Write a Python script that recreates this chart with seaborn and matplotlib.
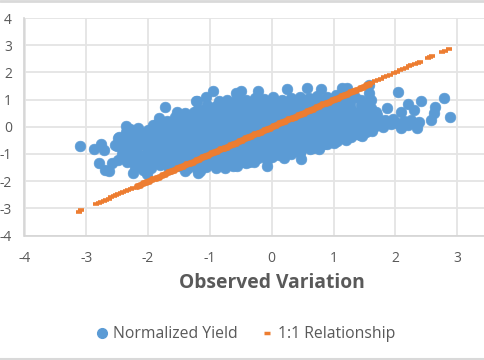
import matplotlib
matplotlib.use("Agg")
import matplotlib.pyplot as plt
from matplotlib.lines import Line2D
import pandas as pd
import seaborn as sns

# Scattered points away from the main cloud
edge_x = [-3.11, -2.88, -2.76, -2.71, -2.79, -2.70, -2.64, -2.59, -2.54, -2.47, -2.35, -2.35,
          -1.72, -1.83, -1.85, -1.54, -1.57, -1.60, -1.60, -2.01, -1.22, -2.25, -2.02, -1.41, -1.20,
          -1.21, -1.07, -0.95, -0.58, -0.50, -0.23, 0.25, 0.57, -1.16, -0.57, -0.37, -0.08, 0.20, 0.47, -0.76,
          2.04, 2.78, 2.42, 2.20, 2.30, 2.64, 2.62, 2.88, 2.58, 1.86, 2.09, 2.35, 2.09, 2.38, 2.26,
          1.93, 1.80, 1.66, 1.46, 0.89, 0.67, 1.21, 1.13, 1.58, 0.79,
          1.72, 1.84, 1.96, 2.02, 2.14, 2.20, 1.70, 1.62, 1.69, 1.60, 1.55, 1.60, 1.58]
edge_y = [-0.69, -0.81, -0.63, -0.85, -1.34, -1.58, -1.62, -1.34, -0.66, -0.36, 0.01, -0.20,
          0.72, 0.34, 0.11, 0.56, 0.36, 0.07, -0.30, -0.20, 0.96, -1.69, -1.73, -1.64, -1.70,
          0.96, 1.08, 1.33, 1.24, 1.30, 1.30, 1.40, 1.42, -1.64, -1.46, -1.30, -1.45, -1.15, -1.18, -1.52,
          1.28, 1.05, 0.93, 0.83, 0.60, 0.72, 0.50, 0.37, 0.25, 0.69, 0.54, -0.05, -0.05, 0.17, 0.26,
          0.10, -0.02, -0.02, -0.33, -0.63, -0.78, 1.44, 1.42, 1.52, 1.40,
          0.20, 0.25, 0.30, 0.12, 0.20, 0.05, 0.42, 0.40, 0.56, 0.70, 0.90, 1.00, 1.25]

# Main cloud, low to high
low_x = [-2.22, -2.08, -1.95, -1.80, -1.66, -1.50, -1.36, -1.20, -1.06, -0.90, -0.76, -0.62,
         -2.48, -2.34, -2.20, -2.07, -1.93, -1.78, -1.64, -1.49, -1.35, -1.20, -1.07, -0.93, -0.78, -0.64, -0.50, -0.36, -0.22, -0.08,
         -2.42, -2.28, -2.13, -1.99, -1.85, -1.70, -1.56, -1.42, -1.27, -1.13, -0.98, -0.84, -0.70, -0.55, -0.41, -0.27, -0.12, 0.02, 0.17, 0.31, 0.45]
low_y = [-1.48, -1.60, -1.50, -1.42, -1.55, -1.45, -1.52, -1.58, -1.47, -1.50, -1.42, -1.46,
         -1.22, -1.30, -1.18, -1.27, -1.20, -1.33, -1.24, -1.17, -1.29, -1.22, -1.30, -1.20, -1.26, -1.18, -1.28, -1.20, -1.15, -1.22,
         -1.00, -0.93, -1.04, -0.97, -1.06, -0.95, -1.00, -0.92, -1.03, -0.98, -1.05, -0.94, -1.00, -0.96, -1.02, -0.93, -1.00, -0.97, -0.92, -1.00, -0.95]

mid_x = [-2.50, -2.35, -2.21, -2.06, -1.92, -1.77, -1.62, -1.48, -1.33, -1.19, -1.04, -0.90, -0.75, -0.60, -0.46, -0.31, -0.17, -0.02, 0.12, 0.27, 0.42, 0.56, 0.71, 0.85, 1.00,
         -2.48, -2.33, -2.19, -2.04, -1.90, -1.75, -1.61, -1.46, -1.32, -1.17, -1.03, -0.88, -0.74, -0.59, -0.45, -0.30, -0.16, -0.01, 0.13, 0.28, 0.42, 0.57, 0.71, 0.86, 1.00, 1.15, 1.29, 1.42,
         -2.30, -2.16, -2.01, -1.87, -1.72, -1.58, -1.43, -1.29, -1.14, -1.00, -0.85, -0.71, -0.56, -0.42, -0.27, -0.13, 0.02, 0.16, 0.31, 0.45, 0.60, 0.74, 0.89, 1.03, 1.18, 1.32, 1.47, 1.61, 1.75]
mid_y = [-0.70, -0.62, -0.75, -0.66, -0.72, -0.64, -0.70, -0.76, -0.65, -0.70, -0.62, -0.74, -0.68, -0.70, -0.64, -0.72, -0.66, -0.70, -0.75, -0.63, -0.70, -0.66, -0.72, -0.65, -0.60,
         -0.40, -0.45, -0.35, -0.42, -0.30, -0.38, -0.44, -0.33, -0.40, -0.36, -0.45, -0.32, -0.40, -0.35, -0.42, -0.38, -0.30, -0.44, -0.36, -0.40, -0.33, -0.42, -0.37, -0.40, -0.34, -0.42, -0.36, -0.30,
         -0.10, -0.05, -0.12, -0.02, -0.08, 0.00, -0.10, -0.04, -0.12, -0.06, 0.00, -0.10, -0.03, -0.08, -0.12, 0.00, -0.06, -0.10, -0.02, -0.08, 0.00, -0.12, -0.05, -0.08, 0.00, -0.10, -0.04, 0.02, 0.05]

high_x = [-1.70, -1.55, -1.41, -1.26, -1.12, -0.97, -0.83, -0.68, -0.54, -0.39, -0.25, -0.10, 0.04, 0.19, 0.33, 0.48, 0.62, 0.77, 0.91, 1.06, 1.20, 1.35, 1.52,
          -1.40, -1.25, -1.11, -0.96, -0.82, -0.67, -0.53, -0.38, -0.24, -0.09, 0.05, 0.20, 0.34, 0.49, 0.63, 0.78, 0.92, 1.07, 1.21, 1.36, 1.52,
          -1.05, -0.90, -0.76, -0.61, -0.47, -0.32, -0.18, -0.03, 0.11, 0.26, 0.40, 0.55, 0.69, 0.84, 0.98, 1.13, 1.27, 1.45,
          -0.72, -0.57, -0.42, -0.27, -0.13, 0.02, 0.16, 0.31, 0.45, 0.60, 0.74, 0.89, 1.04, 1.22]
high_y = [0.20, 0.26, 0.15, 0.22, 0.28, 0.18, 0.24, 0.16, 0.22, 0.27, 0.18, 0.24, 0.20, 0.15, 0.26, 0.20, 0.24, 0.16, 0.22, 0.26, 0.18, 0.24, 0.30,
          0.50, 0.56, 0.46, 0.52, 0.58, 0.48, 0.54, 0.50, 0.46, 0.56, 0.52, 0.48, 0.55, 0.50, 0.46, 0.54, 0.50, 0.56, 0.48, 0.52, 0.60,
          0.80, 0.76, 0.84, 0.78, 0.74, 0.82, 0.78, 0.86, 0.76, 0.80, 0.84, 0.78, 0.82, 0.76, 0.84, 0.80, 0.86, 1.00,
          1.00, 1.04, 0.98, 1.06, 1.02, 1.08, 1.00, 1.06, 1.10, 1.04, 1.12, 1.08, 1.16, 1.22]

# Points between the rows above
fill_low_x = [-2.15, -2.00, -1.85, -1.70, -1.56, -1.42, -1.28, -1.13, -0.99, -0.85, -0.70, -0.56, -0.42, -0.28,
              -2.35, -2.20, -2.00, -1.86, -1.71, -1.57, -1.42, -1.28, -1.14, -1.00, -0.85, -0.71, -0.57, -0.43, -0.28, -0.14, 0.00, 0.12,
              -2.40, -2.20, -2.00, -1.85, -1.70, -1.55, -1.40, -1.26, -1.12, -0.97, -0.83, -0.68, -0.54, -0.40, -0.25, -0.11, 0.04, 0.18, 0.33, 0.47, 0.62, 0.76]
fill_low_y = [-1.37, -1.40, -1.35, -1.38, -1.42, -1.36, -1.40, -1.34, -1.38, -1.40, -1.36, -1.38, -1.34, -1.30,
              -1.10, -1.14, -1.12, -1.08, -1.14, -1.10, -1.12, -1.15, -1.10, -1.13, -1.08, -1.12, -1.14, -1.10, -1.12, -1.08, -1.10, -1.05,
              -0.85, -0.82, -0.88, -0.84, -0.86, -0.82, -0.88, -0.85, -0.82, -0.87, -0.84, -0.86, -0.83, -0.88, -0.84, -0.86, -0.82, -0.85, -0.83, -0.86, -0.82, -0.80]

fill_mid_x = [-2.42, -2.27, -2.12, -1.98, -1.84, -1.69, -1.55, -1.40, -1.26, -1.11, -0.97, -0.82, -0.68, -0.53, -0.39, -0.24, -0.10, 0.05, 0.19, 0.34, 0.48, 0.63, 0.77, 0.92, 1.06, 1.20,
              -2.25, -2.10, -1.96, -1.82, -1.67, -1.53, -1.38, -1.24, -1.09, -0.95, -0.80, -0.66, -0.51, -0.37, -0.22, -0.08, 0.07, 0.21, 0.36, 0.50, 0.65, 0.79, 0.94, 1.08, 1.23, 1.37, 1.52, 1.62,
              -1.92, -1.78, -1.63, -1.49, -1.34, -1.20, -1.05, -0.91, -0.76, -0.62, -0.47, -0.33, -0.18, -0.04, 0.11, 0.25, 0.40, 0.54, 0.69, 0.83, 0.98, 1.12, 1.27, 1.41, 1.56]
fill_mid_y = [-0.55, -0.52, -0.57, -0.54, -0.58, -0.52, -0.55, -0.57, -0.53, -0.56, -0.52, -0.58, -0.54, -0.56, -0.52, -0.55, -0.58, -0.53, -0.56, -0.54, -0.52, -0.57, -0.54, -0.56, -0.52, -0.50,
              -0.25, -0.22, -0.27, -0.24, -0.26, -0.22, -0.25, -0.27, -0.23, -0.26, -0.22, -0.28, -0.24, -0.26, -0.22, -0.25, -0.27, -0.23, -0.26, -0.24, -0.22, -0.27, -0.24, -0.26, -0.22, -0.25, -0.20, -0.15,
              0.05, 0.08, 0.03, 0.06, 0.10, 0.04, 0.07, 0.02, 0.06, 0.09, 0.04, 0.07, 0.03, 0.08, 0.05, 0.02, 0.07, 0.04, 0.09, 0.05, 0.03, 0.07, 0.05, 0.08, 0.12]

fill_high_x = [-1.50, -1.35, -1.20, -1.05, -0.90, -0.76, -0.61, -0.47, -0.32, -0.18, -0.03, 0.12, 0.26, 0.41, 0.55, 0.70, 0.84, 0.99, 1.13, 1.28, 1.44, 1.56,
               -1.20, -1.05, -0.90, -0.75, -0.60, -0.46, -0.31, -0.17, -0.02, 0.13, 0.27, 0.42, 0.56, 0.71, 0.85, 1.00, 1.14, 1.29, 1.45,
               -0.85, -0.70, -0.55, -0.40, -0.25, -0.10, 0.05, 0.20, 0.34, 0.49, 0.63, 0.78, 0.92, 1.07, 1.21, 1.35]
fill_high_y = [0.35, 0.38, 0.33, 0.37, 0.34, 0.38, 0.35, 0.32, 0.37, 0.34, 0.38, 0.35, 0.33, 0.37, 0.34, 0.38, 0.36, 0.33, 0.37, 0.35, 0.38, 0.45,
               0.65, 0.68, 0.63, 0.66, 0.64, 0.68, 0.65, 0.62, 0.67, 0.64, 0.68, 0.65, 0.63, 0.67, 0.65, 0.68, 0.66, 0.64, 0.80,
               0.93, 0.90, 0.94, 0.92, 0.96, 0.92, 0.95, 0.92, 0.96, 0.94, 0.98, 0.95, 0.98, 1.00, 1.02, 1.10]

# 1:1 series, observed values. Dense stretch merges into a solid band, the tails stay broken
line_mid_x = [-2.18, -2.13, -2.08, -2.03, -1.98, -1.93, -1.88, -1.83, -1.78, -1.73, -1.68, -1.63, -1.58, -1.53, -1.48,
              -1.43, -1.38, -1.33, -1.28, -1.23, -1.18, -1.13, -1.08, -1.03, -0.98, -0.93, -0.88, -0.83, -0.78, -0.73,
              -0.68, -0.63, -0.58, -0.53, -0.48, -0.43, -0.38, -0.33, -0.28, -0.23, -0.18, -0.13, -0.08, -0.03, 0.02,
              0.07, 0.12, 0.17, 0.22, 0.27, 0.32, 0.37, 0.42, 0.47, 0.52, 0.57, 0.62, 0.67, 0.72, 0.77, 0.82, 0.87,
              0.92, 0.97, 1.02, 1.07, 1.12, 1.17, 1.22, 1.27, 1.32, 1.37, 1.42, 1.47, 1.52, 1.57]
line_tail_x = [-3.12, -3.08, -2.84, -2.80, -2.76, -2.72, -2.68, -2.64, -2.60, -2.56, -2.52, -2.48, -2.44, -2.40, -2.36,
               -2.32, -2.28, -2.24, 1.62, 1.67, 1.72, 1.77, 1.82, 1.87, 1.92, 1.97, 2.02, 2.07, 2.12, 2.17, 2.22, 2.26,
               2.31, 2.36, 2.40, 2.52, 2.56, 2.60, 2.76, 2.80, 2.86]

x_ticks = [-4, -3, -2, -1, 0, 1, 2, 3]
y_ticks = [-4, -3, -2, -1, 0, 1, 2, 3, 4]

GREY = "#595959"
BLUE = "#5B9BD5"
ORANGE = "#ED7D31"

yield_df = pd.DataFrame({"observed": low_x + mid_x + high_x + fill_low_x + fill_mid_x + fill_high_x + edge_x,
                         "normalized": low_y + mid_y + high_y + fill_low_y + fill_mid_y + fill_high_y + edge_y})
mid_df = pd.DataFrame({"observed": line_mid_x, "normalized": line_mid_x})
tail_df = pd.DataFrame({"observed": line_tail_x, "normalized": line_tail_x})

sns.set_theme(style="white")
plt.rcParams["font.family"] = ["Open Sans", "DejaVu Sans"]
plt.rcParams["axes.unicode_minus"] = False

fig = plt.figure(figsize=(4.85, 3.6), dpi=100)
# the chart runs off the right side of the crop, x=4 is outside the figure
ax = fig.add_axes([24.5 / 485, 1 - 235.5 / 360, (519 - 24.5) / 485, (235.5 - 18) / 360])

sns.scatterplot(data=yield_df, x="observed", y="normalized", ax=ax, color=BLUE, s=60,
                edgecolor=BLUE, linewidth=0.4, zorder=3, clip_on=False)
sns.scatterplot(data=mid_df, x="observed", y="normalized", ax=ax, color=ORANGE, s=24,
                edgecolor=ORANGE, linewidth=0.2, zorder=4)
sns.scatterplot(data=tail_df, x="observed", y="normalized", ax=ax, color=ORANGE, s=22,
                marker="_", linewidth=2.6, zorder=4)

ax.set_xlim(-4, 4)
ax.set_ylim(-4, 4)
ax.set_xticks(x_ticks)
ax.set_yticks(y_ticks)
ax.grid(True, color="#e4e4e4", linewidth=1.3)
ax.set_axisbelow(True)
for side in ["top", "right"]:
    ax.spines[side].set_visible(False)
for side in ["left", "bottom"]:
    ax.spines[side].set_color("#d4d4d4")
    ax.spines[side].set_linewidth(1.2)
ax.tick_params(axis="x", length=0, pad=11, labelsize=10, labelcolor=GREY)
ax.tick_params(axis="y", length=0, pad=9, labelsize=10, labelcolor=GREY)
ax.set_xlabel("")
ax.set_ylabel("")

fig.text(272 / 485, 1 - 283 / 360, "Observed Variation", ha="center", va="center",
         fontsize=13.9, fontweight="bold", color=GREY)

handles = [Line2D([], [], linestyle="", marker="o", markersize=7, color=BLUE),
           Line2D([], [], linestyle="", marker="_", markersize=4.5, markeredgewidth=2.5, color=ORANGE)]
fig.legend(handles, ["Normalized Yield", "1:1 Relationship"], ncol=2, loc="center",
           bbox_to_anchor=(246 / 485, 1 - 334.5 / 360), frameon=False, fontsize=11.3,
           labelcolor=GREY, handlelength=0.7, handletextpad=0.35, columnspacing=1.5)

# frame of the pasted chart, top and bottom
fig.add_artist(Line2D([0, 1], [0.998, 0.998], color="#d9d9d9", linewidth=2))
fig.add_artist(Line2D([0, 1], [0.004, 0.004], color="#d9d9d9", linewidth=1.5))

fig.savefig("out.png", dpi=100)
